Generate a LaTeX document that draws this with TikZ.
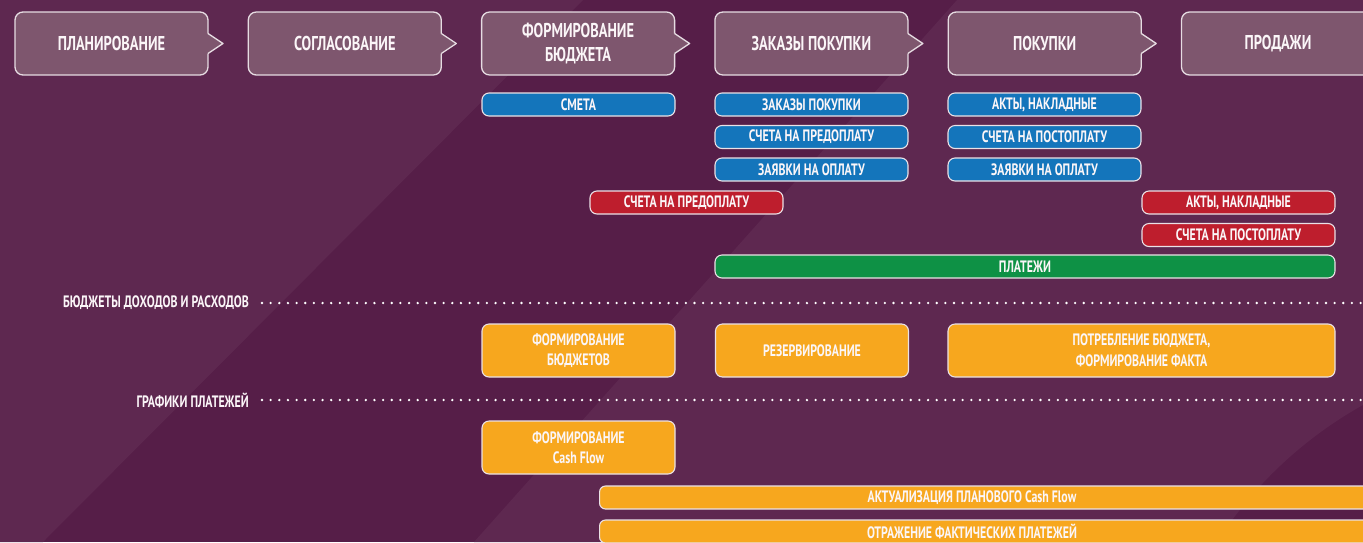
\documentclass[tikz,border=0pt]{standalone}
\usepackage{fontspec}
\setmainfont{PT Sans}[FakeStretch=0.72]
\usetikzlibrary{positioning}

\definecolor{bgdark}{HTML}{561E48}
\definecolor{bglight}{HTML}{5E2850}
\definecolor{stagefill}{HTML}{7E566E}
\definecolor{docblue}{HTML}{1475BB}
\definecolor{docred}{HTML}{BE1E2D}
\definecolor{paygreen}{HTML}{0E9145}
\definecolor{budorange}{HTML}{F7A71E}
\definecolor{edgegray}{HTML}{E6DCE2}
\definecolor{labelwhite}{HTML}{FBF6F8}

\tikzset{
  stage/.style={draw=edgegray, line width=1.3pt, fill=stagefill, rounded corners=8pt,
    minimum width=193pt, minimum height=63pt, inner sep=0pt, outer sep=0pt,
    text=labelwhite, align=center, font=\bfseries\fontsize{20}{24}\selectfont},
  notch/.style={draw=edgegray, line width=1.3pt, line join=round},
  doc/.style={draw=edgegray!85, line width=1.1pt, rounded corners=7pt,
    minimum width=193pt, minimum height=23pt, inner sep=0pt,
    text=labelwhite, font=\bfseries\fontsize{16.5}{18}\selectfont},
  blue doc/.style={doc, fill=docblue},
  red doc/.style={doc, fill=docred},
  pay/.style={doc, fill=paygreen, minimum width=620pt},
  budget/.style={doc, fill=budorange, minimum height=53pt, align=center,
    font=\bfseries\fontsize{16.5}{20.5}\selectfont},
  bar/.style={doc, fill=budorange, rounded corners=6pt, minimum width=800pt, anchor=west},
  bartext/.style={text=labelwhite, font=\bfseries\fontsize{16.5}{18}\selectfont},
  lane/.style={text=labelwhite, anchor=east, inner sep=0pt, font=\bfseries\fontsize{16.5}{18}\selectfont},
  dotline/.style={white, line width=2.6pt, line cap=round, dash pattern=on 0pt off 8.65pt}
}

\begin{document}
\begin{tikzpicture}[x=1pt, y=-1pt, node distance=40.3pt]
	\useasboundingbox (0,0) rectangle (1363,542);
	\clip (0,0) rectangle (1363,542);

	% background
	\fill[bgdark] (0,0) rectangle (1363,542);
	\fill[bglight] (0,0) -- (583,0) -- (43,542) -- (0,542) -- cycle;
	\fill[bglight] (957,0) -- (1363,0) -- (1363,405)
		.. controls (1300,440) and (1250,490) .. (1217,542) -- (474,542) -- cycle;

	% stages
	\node[stage]   (plan)               at (111.5,43.5) {ПЛАНИРОВАНИЕ};
	\node[stage]   (agree)  [right=of plan]   {СОГЛАСОВАНИЕ};
	\node[stage]   (budg)   [right=of agree]  {ФОРМИРОВАНИЕ\\БЮДЖЕТА};
	\node[stage]   (order)  [right=of budg]   {ЗАКАЗЫ ПОКУПКИ};
	\node[stage]   (buy)    [right=of order]  {ПОКУПКИ};
	\node[stage]   (sale)   [right=of buy]    {ПРОДАЖИ};

	\foreach \s in {plan,agree,budg,order,buy}{
		\fill[stagefill] ([xshift=-1.5pt,yshift=10pt]\s.east) -- ([yshift=10pt]\s.east)
			-- ([xshift=15pt]\s.east) -- ([yshift=-10pt]\s.east)
			-- ([xshift=-1.5pt,yshift=-10pt]\s.east) -- cycle;
		\draw[notch] ([yshift=10pt]\s.east) -- ([xshift=15pt]\s.east) -- ([yshift=-10pt]\s.east);
	}

	% documents
	\node[blue doc] (smeta)   at (578.5,104.5)  {СМЕТА};
	\node[blue doc] (zak)     at (811.5,104.5)  {ЗАКАЗЫ ПОКУПКИ};
	\node[blue doc] (prepay)  at (811.5,137)    {СЧЕТА НА ПРЕДОПЛАТУ};
	\node[blue doc] (req)     at (811.5,169.5)  {ЗАЯВКИ НА ОПЛАТУ};
	\node[blue doc] (acts)    at (1044.5,104.5) {АКТЫ, НАКЛАДНЫЕ};
	\node[blue doc] (postpay) at (1044.5,137)   {СЧЕТА НА ПОСТОПЛАТУ};
	\node[blue doc] (req2)    at (1044.5,169.5) {ЗАЯВКИ НА ОПЛАТУ};
	\node[red doc]  (rprepay) at (686.5,202.5)  {СЧЕТА НА ПРЕДОПЛАТУ};
	\node[red doc]  (racts)   at (1238.5,202.5) {АКТЫ, НАКЛАДНЫЕ};
	\node[red doc]  (rpost)   at (1238.5,235)   {СЧЕТА НА ПОСТОПЛАТУ};
	\node[pay]      (pays)    at (1025,266.5)   {ПЛАТЕЖИ};

	% lanes
	\node[lane] (bdr) at (249,303) {БЮДЖЕТЫ ДОХОДОВ И РАСХОДОВ};
	\node[lane] (gpl) at (249,400) {ГРАФИКИ ПЛАТЕЖЕЙ};
	\coordinate (bdrend) at (1366,303);
	\coordinate (gplend) at (1366,400);
	\draw[dotline] ([xshift=13pt]bdr.east) -- (bdrend);
	\draw[dotline] ([xshift=13pt]gpl.east) -- (gplend);

	% budget blocks
	\node[budget] (fbud)  at (578.5,350.5)  {ФОРМИРОВАНИЕ\\БЮДЖЕТОВ};
	\node[budget] (resv)  at (812,350.5)    {РЕЗЕРВИРОВАНИЕ};
	\node[budget, minimum width=387pt] (cons) at (1141.5,350.5) {ПОТРЕБЛЕНИЕ БЮДЖЕТА,\\ФОРМИРОВАНИЕ ФАКТА};
	\node[budget] (fcash) at (578.5,447.5)  {ФОРМИРОВАНИЕ\\Cash Flow};
	\node[bar] (actual) at (599,497.5) {};
	\node[bar] (fact)   at (599,531.5) {};
	\node[bartext] (actualtxt) at (972,497.5) {АКТУАЛИЗАЦИЯ ПЛАНОВОГО Cash Flow};
	\node[bartext] (facttxt)   at (972,531.5) {ОТРАЖЕНИЕ ФАКТИЧЕСКИХ ПЛАТЕЖЕЙ};
\end{tikzpicture}
\end{document}
